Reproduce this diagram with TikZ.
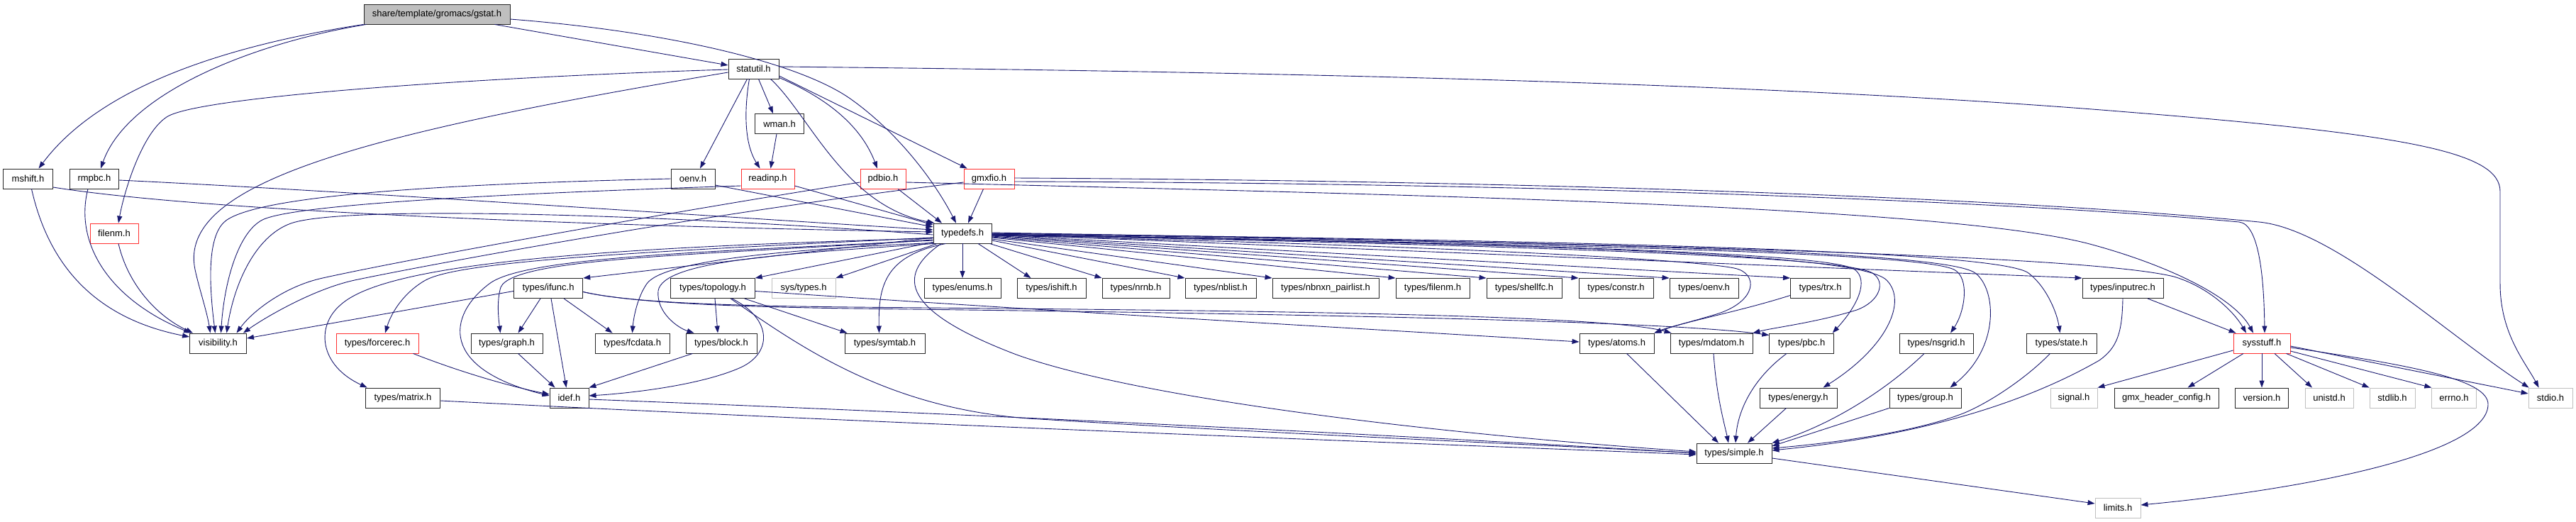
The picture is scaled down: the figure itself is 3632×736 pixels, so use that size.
\documentclass[tikz,border=0pt]{standalone}
\usepackage{fontspec}
\setmainfont{Liberation Sans}
\usetikzlibrary{arrows.meta,calc}
\definecolor{edgec}{HTML}{191970}
\definecolor{grey75}{HTML}{BFBFBF}
\definecolor{redb}{HTML}{FF3030}
\begin{document}
\begin{tikzpicture}[x=1pt,y=-1pt,
  nb/.style={draw=black!85, line width=0.9pt, fill=white, minimum height=28pt, inner sep=0pt, font=\fontsize{13}{15}\selectfont},
  rb/.style={nb, draw=redb},
  gb/.style={nb, draw=grey75},
  ln/.style={draw=edgec, line width=0.9pt, -{Triangle[length=10pt,width=7pt]}}]
\useasboundingbox (0,0) rectangle (3632,736);
\fill[white] (0,0) rectangle (3632,736);
% ---------------- nodes ----------------
\node[nb,fill=grey75,minimum width=206pt] (gstat) at (616,20) {share/template/gromacs/gstat.h};
\node[nb,minimum width=71pt] (statutil) at (1062.5,97) {statutil.h};
\node[nb,minimum width=69pt] (wman) at (1099,174.5) {wman.h};
\node[nb,minimum width=70pt] (mshift) at (39.5,252) {mshift.h};
\node[nb,minimum width=69pt] (rmpbc) at (133,252) {rmpbc.h};
\node[nb,minimum width=62pt] (oenv) at (977,252) {oenv.h};
\node[rb,minimum width=75pt] (readinp) at (1082.5,252) {readinp.h};
\node[rb,minimum width=64pt] (pdbio) at (1245,252) {pdbio.h};
\node[rb,minimum width=71pt] (gmxfio) at (1394.5,252) {gmxfio.h};
\node[rb,minimum width=68pt] (filenm) at (161,329) {filenm.h};
\node[nb,minimum width=82pt] (typedefs) at (1357,329) {typedefs.h};
% row 5
\node[nb,minimum width=97.5pt] (ifunc) at (773,406.5) {types/ifunc.h};
\node[nb,minimum width=118.5pt] (topology) at (1005,406.5) {types/topology.h};
\node[gb,minimum width=90pt] (systypes) at (1133,406.5) {sys/types.h};
\node[nb,minimum width=108pt] (enums) at (1357,406.5) {types/enums.h};
\node[nb,minimum width=97pt] (ishift) at (1482.5,406.5) {types/ishift.h};
\node[nb,minimum width=95pt] (nrnb) at (1601.5,406.5) {types/nrnb.h};
\node[nb,minimum width=100pt] (nblist) at (1721,406.5) {types/nblist.h};
\node[nb,minimum width=150pt] (nbnxn) at (1869,406.5) {types/nbnxn\_pairlist.h};
\node[nb,minimum width=104pt] (tfilenm) at (2020,406.5) {types/filenm.h};
\node[nb,minimum width=106pt] (shellfc) at (2149,406.5) {types/shellfc.h};
\node[nb,minimum width=105pt] (constr) at (2278.5,406.5) {types/constr.h};
\node[nb,minimum width=97pt] (toenv) at (2402.5,406.5) {types/oenv.h};
\node[nb,minimum width=84pt] (trx) at (2566.5,406.5) {types/trx.h};
\node[nb,minimum width=114pt] (inputrec) at (2993,406.5) {types/inputrec.h};
% row 6
\node[nb,minimum width=80pt] (visibility) at (307.5,484) {visibility.h};
\node[rb,minimum width=116pt] (forcerec) at (532,484) {types/forcerec.h};
\node[nb,minimum width=101pt] (graph) at (714.5,484) {types/graph.h};
\node[nb,minimum width=105pt] (fcdata) at (891.5,484) {types/fcdata.h};
\node[nb,minimum width=100pt] (block) at (1017,484) {types/block.h};
\node[nb,minimum width=113pt] (symtab) at (1247.5,484) {types/symtab.h};
\node[nb,minimum width=105pt] (atoms) at (2279.5,484) {types/atoms.h};
\node[nb,minimum width=116pt] (mdatom) at (2413,484) {types/mdatom.h};
\node[nb,minimum width=90.5pt] (pbc) at (2540,484) {types/pbc.h};
\node[nb,minimum width=104pt] (nsgrid) at (2730,484) {types/nsgrid.h};
\node[nb,minimum width=99pt] (state) at (2906.5,484) {types/state.h};
\node[rb,minimum width=80pt] (sysstuff) at (3189,484) {sysstuff.h};
% row 7
\node[nb,minimum width=105.6pt] (matrix) at (568,561) {types/matrix.h};
\node[nb,minimum width=55pt] (idef) at (802.5,561) {idef.h};
\node[nb,minimum width=109pt] (energy) at (2535.5,561) {types/energy.h};
\node[nb,minimum width=101pt] (group) at (2714.5,561) {types/group.h};
\node[gb,minimum width=66pt] (signal) at (2924,561) {signal.h};
\node[nb,minimum width=147pt] (gmxhc) at (3054.5,561) {gmx\_header\_config.h};
\node[nb,minimum width=74.5pt] (version) at (3189,561) {version.h};
\node[gb,minimum width=68pt] (unistd) at (3284,561) {unistd.h};
\node[gb,minimum width=64pt] (stdlib) at (3373,561) {stdlib.h};
\node[gb,minimum width=62.5pt] (errno) at (3460,561) {errno.h};
\node[gb,minimum width=62pt] (stdio) at (3596,561) {stdio.h};
% rows 8, 9
\node[nb,minimum width=106pt] (simple) at (2445,639) {types/simple.h};
\node[gb,minimum width=64pt] (limits) at (2986,716) {limits.h};
% ---------------- edges ----------------
% gstat.h
\draw[ln] (gstat.south west) .. controls (250,75) and (120,150) .. ($(mshift.north)+(15,0)$);
\draw[ln] ($(gstat.south west)+(4,0)$) .. controls (360,60) and (180,130) .. ($(rmpbc.north)+(9,0)$);
\draw[ln] ($(gstat.south east)+(-22,0)$) -- ($(statutil.west)+(0,-5)$);
\draw[ln] ($(gstat.east)+(0,7)$) .. controls (950,45) and (1130,90) .. (1200,140) .. controls (1270,190) and (1320,260) .. ($(typedefs.north)+(-9,0)$);
% statutil.h
\draw[ln] ($(statutil.west)+(0,5)$) .. controls (500,190) and (250,260) .. (275,380) .. controls (280,404) and (292,440) .. ($(visibility.north)+(-11,0)$);
\draw[ln] ($(statutil.west)+(0,1)$) .. controls (700,108) and (280,135) .. (235,165) .. controls (200,188) and (175,270) .. ($(filenm.north)+(6,0)$);
\draw[ln] ($(statutil.south)+(-9,0)$) -- ($(oenv.north)+(10,0)$);
\draw[ln] ($(statutil.south)+(-6,0)$) .. controls (1050,150) and (1048,200) .. ($(readinp.north)+(-11,0)$);
\draw[ln] ($(statutil.south)+(7,0)$) -- ($(wman.north)+(-9,0)$);
\draw[ln] ($(statutil.south east)+(0,-2)$) .. controls (1170,140) and (1215,180) .. ($(pdbio.north)+(-8,0)$);
\draw[ln] ($(statutil.east)+(0,10)$) -- ($(gmxfio.north west)+(5,0)$);
\draw[ln] ($(statutil.south east)+(-12,0)$) .. controls (1140,160) and (1190,290) .. ($(typedefs.north west)+(2,0)$);
\draw[ln] ($(statutil.east)+(0,-3)$) .. controls (2000,103) and (2600,125) .. (3000,158) .. controls (3400,190) and (3525,215) .. (3525,270) -- (3525,400) .. controls (3525,470) and (3560,510) .. ($(stdio.north west)+(15,0)$);
% wman.h
\draw[ln] ($(wman.south)+(-4,0)$) -- ($(readinp.north)+(4,0)$);
% mshift, rmpbc, filenm
\draw[ln] ($(mshift.south)+(5,0)$) .. controls (70,380) and (140,450) .. ($(visibility.west)+(0,-9)$);
\draw[ln] ($(mshift.east)+(0,12)$) .. controls (300,300) and (900,320) .. ($(typedefs.west)+(0,-2)$);
\draw[ln] ($(rmpbc.south)+(-9,0)$) .. controls (105,340) and (150,420) .. ($(visibility.north west)+(2,0)$);
\draw[ln] ($(rmpbc.east)+(0,2)$) .. controls (500,270) and (1000,305) .. ($(typedefs.west)+(0,-5)$);
\draw[ln] ($(filenm.south)+(6,0)$) .. controls (180,400) and (220,445) .. ($(visibility.north west)+(5,0)$);
% oenv, readinp
\draw[ln] (oenv.west) .. controls (700,258) and (380,270) .. (320,310) .. controls (296,326) and (292,380) .. ($(visibility.north)+(-4,0)$);
\draw[ln] ($(oenv.east)+(0,9)$) -- ($(typedefs.west)+(0,-9)$);
\draw[ln] ($(readinp.west)+(0,10)$) .. controls (800,270) and (420,285) .. (370,310) .. controls (335,328) and (316,400) .. ($(visibility.north)+(4,0)$);
\draw[ln] ($(readinp.east)+(0,10)$) -- ($(typedefs.west)+(0,-12)$);
% pdbio
\draw[ln] ($(pdbio.west)+(0,5)$) .. controls (1000,290) and (600,360) .. (455,392) .. controls (400,404) and (355,440) .. ($(visibility.north)+(26,0)$);
\draw[ln] ($(pdbio.south)+(21,0)$) -- ($(typedefs.north)+(-29,0)$);
\draw[ln] ($(pdbio.east)+(0,5)$) .. controls (2000,275) and (2750,290) .. (2950,345) .. controls (3060,375) and (3150,420) .. ($(sysstuff.north)+(-12,0)$);
% gmxfio
\draw[ln] ($(gmxfio.west)+(0,5)$) .. controls (1000,300) and (620,370) .. (500,395) .. controls (440,408) and (370,450) .. ($(visibility.north east)+(-5,0)$);
\draw[ln] ($(gmxfio.south)+(-8,0)$) -- ($(typedefs.north)+(8,0)$);
\draw[ln] ($(gmxfio.east)+(0,4)$) .. controls (2200,258) and (2850,285) .. (3157,313) .. controls (3185,316) and (3192,390) .. ($(sysstuff.north)+(4,0)$);
\draw[ln] ($(gmxfio.east)+(0,-1)$) .. controls (2200,255) and (2850,280) .. (3185,313) .. controls (3290,323) and (3450,472) .. ($(stdio.north west)+(1,0)$);
% typedefs.h -> left / down-left
\draw[ln] ($(typedefs.west)+(0,2)$) .. controls (900,300) and (480,290) .. (410,315) .. controls (360,333) and (330,400) .. ($(visibility.north)+(12,0)$);
\draw[ln] ($(typedefs.west)+(0,6)$) .. controls (900,355) and (650,368) .. (600,395) .. controls (570,412) and (552,440) .. ($(forcerec.north)+(11,0)$);
\draw[ln] ($(typedefs.west)+(0,7)$) .. controls (800,350) and (540,375) .. (480,430) .. controls (445,460) and (450,515) .. ($(matrix.north west)+(3,0)$);
\draw[ln] ($(typedefs.west)+(0,9)$) .. controls (1000,360) and (725,362) .. (706,405) .. controls (700,425) and (703,450) .. ($(graph.north)+(-9,0)$);
\draw[ln] ($(typedefs.west)+(0,10)$) .. controls (1000,355) and (740,362) .. (690,400) .. controls (630,445) and (620,520) .. ($(idef.west)+(0,-3)$);
\draw[ln] ($(typedefs.west)+(0,6)$) -- (ifunc.north east);
\draw[ln] ($(typedefs.south west)+(0,-1)$) .. controls (1100,352) and (935,368) .. (912,400) .. controls (898,420) and (893,450) .. (fcdata.north);
\draw[ln] ($(typedefs.south west)+(2,0)$) .. controls (1100,358) and (935,368) .. (928,410) .. controls (925,440) and (955,462) .. ($(block.north west)+(12,0)$);
\draw[ln] ($(typedefs.south west)+(0,-2)$) -- (topology.north east);
\draw[ln] ($(typedefs.south west)+(6,0)$) -- (systypes.north east);
\draw[ln] ($(typedefs.south west)+(18,0)$) .. controls (1250,360) and (1238,400) .. ($(symtab.north)+(-8,0)$);
\draw[ln] ($(typedefs.south)+(-30,0)$) .. controls (1260,390) and (1275,440) .. (1433,500) .. controls (1600,560) and (2000,610) .. ($(simple.west)+(0,-2)$);
% typedefs.h -> row below
\draw[ln] (typedefs.south) -- (enums.north);
\draw[ln] ($(typedefs.south)+(22,0)$) -- ($(ishift.north)+(-29,0)$);
\draw[ln] ($(typedefs.south east)+(-3,0)$) -- (nrnb.north west);
\draw[ln] ($(typedefs.east)+(0,10)$) -- (nblist.north west);
\draw[ln] ($(typedefs.east)+(0,8)$) -- (nbnxn.north west);
\draw[ln] ($(typedefs.east)+(0,6)$) -- (tfilenm.north west);
\draw[ln] ($(typedefs.east)+(0,5)$) -- (shellfc.north west);
\draw[ln] ($(typedefs.east)+(0,4)$) -- (constr.north west);
\draw[ln] ($(typedefs.east)+(0,3)$) -- (toenv.north west);
\draw[ln] ($(typedefs.east)+(0,2)$) -- (trx.north west);
\draw[ln] ($(typedefs.east)+(0,1)$) -- (inputrec.north west);
% typedefs.h -> far right curves
\draw[ln] ($(typedefs.east)+(0,3)$) .. controls (2000,345) and (2380,365) .. (2445,378) .. controls (2480,385) and (2478,425) .. (2420,443) .. controls (2380,455) and (2350,462) .. (atoms.north east);
\draw[ln] ($(typedefs.east)+(0,2)$) .. controls (2100,345) and (2600,360) .. (2640,385) .. controls (2660,398) and (2650,425) .. (2618,437) .. controls (2560,455) and (2500,462) .. (mdatom.north east);
\draw[ln] ($(typedefs.east)+(0,2)$) .. controls (2100,343) and (2580,355) .. (2615,380) .. controls (2635,395) and (2620,430) .. ($(pbc.north east)+(-2,0)$);
\draw[ln] ($(typedefs.east)+(0,1)$) .. controls (2150,345) and (2620,355) .. (2660,395) .. controls (2690,425) and (2660,490) .. ($(energy.north)+(35,0)$);
\draw[ln] ($(typedefs.east)+(0,1)$) .. controls (2200,345) and (2700,355) .. (2755,380) .. controls (2778,392) and (2770,440) .. ($(nsgrid.north)+(20,0)$);
\draw[ln] ($(typedefs.east)+(0,0)$) .. controls (2200,343) and (2740,352) .. (2785,385) .. controls (2815,408) and (2820,490) .. ($(group.north)+(35,0)$);
\draw[ln] ($(typedefs.east)+(0,0)$) .. controls (2300,340) and (2820,355) .. (2860,385) .. controls (2885,404) and (2900,440) .. ($(state.north)+(-2,0)$);
\draw[ln] ($(typedefs.east)+(0,-1)$) .. controls (2400,345) and (2950,362) .. (3065,390) .. controls (3115,405) and (3150,440) .. ($(sysstuff.north)+(-22,0)$);
% types/ifunc.h
\draw[ln] ($(ifunc.west)+(0,4)$) -- ($(visibility.east)+(0,-7)$);
\draw[ln] ($(ifunc.south)+(-11,0)$) -- ($(graph.north)+(16,0)$);
\draw[ln] ($(ifunc.south)+(4,0)$) -- ($(idef.north)+(-4,0)$);
\draw[ln] ($(ifunc.south)+(22,0)$) -- ($(fcdata.north west)+(25,0)$);
\draw[ln] ($(ifunc.east)+(0,5)$) .. controls (880,425) and (1000,431) .. (1200,433) .. controls (1600,437) and (2250,440) .. ($(mdatom.north west)+(2,0)$);
\draw[ln] ($(ifunc.east)+(0,5)$) .. controls (880,425) and (1000,432) .. (1200,435) .. controls (1800,442) and (2350,452) .. ($(pbc.north west)+(0,3)$);
% types/topology.h
\draw[ln] ($(topology.south)+(3,0)$) -- ($(block.north)+(-5,0)$);
\draw[ln] ($(topology.south east)+(-15,0)$) -- ($(symtab.north west)+(4,0)$);
\draw[ln] ($(topology.south)+(27,0)$) .. controls (1090,450) and (1090,500) .. (1040,520) .. controls (980,545) and (880,555) .. ($(idef.east)+(0,-3)$);
\draw[ln] ($(topology.south)+(25,0)$) .. controls (1130,490) and (1250,575) .. (1450,590) .. controls (1800,612) and (2200,628) .. (simple.west);
\draw[ln] ($(topology.east)+(0,4)$) .. controls (1500,440) and (1900,462) .. ($(atoms.west)+(0,-2)$);
% row 6 / 7 sources
\draw[ln] ($(forcerec.south east)+(-8,0)$) .. controls (650,525) and (720,545) .. ($(idef.west)+(0,-5)$);
\draw[ln] ($(graph.south)+(16,0)$) -- ($(idef.north west)+(8,0)$);
\draw[ln] ($(block.south west)+(10,0)$) -- (idef.north east);
\draw[ln] ($(matrix.east)+(0,4)$) .. controls (1300,600) and (2000,625) .. ($(simple.west)+(0,2)$);
\draw[ln] ($(idef.east)+(0,2)$) .. controls (1400,585) and (2000,615) .. (simple.west);
\draw[ln] ($(trx.west)+(0,10)$) .. controls (2450,440) and (2380,452) .. (atoms.north east);
\draw[ln] ($(atoms.south)+(14,0)$) -- ($(simple.north)+(-22,0)$);
\draw[ln] ($(mdatom.south)+(3,0)$) .. controls (2420,560) and (2432,600) .. ($(simple.north)+(-8,0)$);
\draw[ln] ($(pbc.south)+(-21,0)$) .. controls (2470,535) and (2450,580) .. ($(simple.north)+(2,0)$);
\draw[ln] ($(energy.south)+(-17,0)$) -- ($(simple.north)+(19,0)$);
\draw[ln] ($(nsgrid.south)+(-17,0)$) .. controls (2660,550) and (2580,600) .. (simple.north east);
\draw[ln] (group.south west) -- ($(simple.east)+(0,-10)$);
\draw[ln] ($(state.south)+(-16,0)$) .. controls (2860,530) and (2810,565) .. (2770,582) .. controls (2700,610) and (2580,625) .. ($(simple.east)+(0,-7)$);
\draw[ln] (inputrec.south) .. controls (2992,470) and (2985,490) .. (2960,508) .. controls (2800,600) and (2600,625) .. ($(simple.east)+(0,-4)$);
\draw[ln] ($(inputrec.south)+(35,0)$) -- ($(sysstuff.north west)+(4,0)$);
% sysstuff.h
\draw[ln] ($(sysstuff.west)+(0,10)$) -- (signal.north east);
\draw[ln] ($(sysstuff.south)+(-26,0)$) -- ($(gmxhc.north)+(30,0)$);
\draw[ln] (sysstuff.south) -- (version.north);
\draw[ln] ($(sysstuff.south)+(18,0)$) -- ($(unistd.north)+(-24,0)$);
\draw[ln] ($(sysstuff.south east)+(-6,0)$) -- (stdlib.north west);
\draw[ln] ($(sysstuff.east)+(0,11)$) -- (errno.north west);
\draw[ln] ($(sysstuff.east)+(0,4)$) -- ($(stdio.west)+(0,-6)$);
\draw[ln] ($(sysstuff.east)+(0,6)$) .. controls (3400,515) and (3508,535) .. (3508,570) .. controls (3508,640) and (3250,690) .. ($(limits.east)+(0,-4)$);
% types/simple.h
\draw[ln] ($(simple.east)+(0,7)$) -- ($(limits.west)+(0,-6)$);
\end{tikzpicture}
\end{document}
